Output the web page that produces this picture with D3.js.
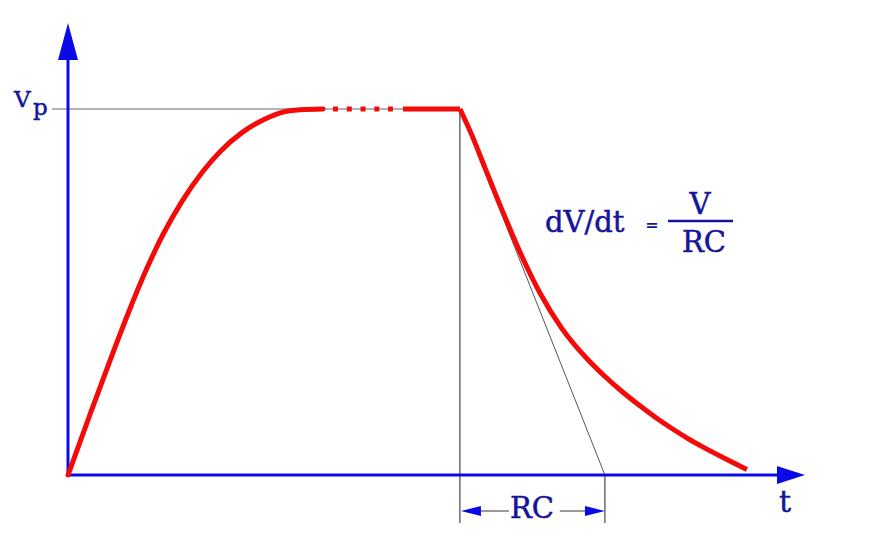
<!DOCTYPE html>
<html>
<head>
<meta charset="utf-8">
<script src="https://cdn.jsdelivr.net/npm/d3@7"></script>
<style>
  html, body { margin: 0; padding: 0; background: #fff; }
  svg { display: block; }
</style>
</head>
<body>
<svg id="chart" width="880" height="548"></svg>
<script>
// ---- Data (time in units of RC, voltage in units of Vp) ----
const riseT = [0, 0.1517, 0.2897, 0.4138, 0.5448, 0.6552, 0.7862, 0.9310, 1.0483, 1.2000, 1.3448, 1.4759, 1.6000, 1.7586];
const riseV = [0, 0.1653, 0.3128, 0.4407, 0.5653, 0.6571, 0.7478, 0.8298, 0.8833, 0.9355, 0.9699, 0.9910, 0.9978, 1.0];
const dottedT = [1.828, 2.241];          // dotted portion of the plateau
const plateauT = [2.310, 2.703];         // solid portion of the plateau
const decayT = [2.7034, 2.7862, 2.8759, 2.9655, 3.0621, 3.1517, 3.2552, 3.4069, 3.5862, 3.7034, 3.8207, 3.9310, 4.0483, 4.1655, 4.2759, 4.3931, 4.5103, 4.6828];
const decayV = [1.0, 0.9279, 0.8391, 0.7511, 0.6593, 0.5792, 0.4973, 0.4000, 0.3148, 0.2691, 0.2281, 0.1932, 0.1587, 0.1270, 0.0995, 0.0735, 0.0492, 0.0150];
const RC = 1.0;
const decayStart = 2.703;
const Vp = 1.0;
const axisMaxT = 5.083;
const axisMaxV = 1.235;
const labels = { vp: ["V", "p"], t: "t", rc: "RC", formulaLeft: "dV/dt", eq: "=", num: "V", den: "RC" };

// ---- Scales ----
const x = d3.scaleLinear().domain([0, axisMaxT]).range([68, 805]);
const y = d3.scaleLinear().domain([0, Vp]).range([475, 109]);

const svg = d3.select("#chart");
const blue = "#0a0ae6";
const navy = "#15159a";
const red = "#f50a0a";
const serif = "'DejaVu Serif', serif";

const line = d3.line().x(d => x(d[0])).y(d => y(d[1])).curve(d3.curveMonotoneX);

// thin reference lines
svg.append("line").attr("x1", 52).attr("x2", x(decayStart)).attr("y1", y(Vp)).attr("y2", y(Vp))
  .attr("stroke", "#666").attr("stroke-width", 1);
svg.append("line").attr("x1", x(decayStart)).attr("x2", x(decayStart)).attr("y1", y(Vp)).attr("y2", y(0) + 48)
  .attr("stroke", "#222").attr("stroke-width", 1);
svg.append("line").attr("x1", x(decayStart + RC)).attr("x2", x(decayStart + RC)).attr("y1", y(0)).attr("y2", y(0) + 48)
  .attr("stroke", "#222").attr("stroke-width", 1);
// tangent
svg.append("line").attr("x1", x(decayStart)).attr("y1", y(Vp)).attr("x2", x(decayStart + RC)).attr("y2", y(0))
  .attr("stroke", "#555").attr("stroke-width", 1);

// axes
svg.append("line").attr("x1", x(0)).attr("x2", x(axisMaxT) - 26).attr("y1", y(0)).attr("y2", y(0))
  .attr("stroke", blue).attr("stroke-width", 3);
svg.append("line").attr("x1", x(0)).attr("x2", x(0)).attr("y1", y(0) + 1.5).attr("y2", y(axisMaxV) + 35)
  .attr("stroke", blue).attr("stroke-width", 3);
// arrowheads
const xe = x(axisMaxT), ye = y(0);
svg.append("path").attr("d", `M${xe},${ye} L${xe - 28},${ye - 9} L${xe - 28},${ye + 9} Z`).attr("fill", blue);
const yt = y(axisMaxV), xo = x(0);
svg.append("path").attr("d", `M${xo},${yt} L${xo - 10},${yt + 37} L${xo + 10},${yt + 37} Z`).attr("fill", blue);

// red curves
const riseData = riseT.map((t, i) => [t, riseV[i]]);
const decayData = decayT.map((t, i) => [t, decayV[i]]);
svg.append("path").attr("d", line(riseData)).attr("fill", "none").attr("stroke", red).attr("stroke-width", 5).attr("stroke-linecap", "round");
svg.append("path").attr("d", line(dottedT.map(t => [t, Vp]))).attr("fill", "none").attr("stroke", red)
  .attr("stroke-width", 5).attr("stroke-dasharray", "5,8.75");
svg.append("path").attr("d", line(plateauT.map(t => [t, Vp]))).attr("fill", "none").attr("stroke", red).attr("stroke-width", 5);
svg.append("path").attr("d", line(decayData)).attr("fill", "none").attr("stroke", red).attr("stroke-width", 5).attr("stroke-linejoin", "round");

// RC dimension
const dy = y(0) + 36;
const xa = x(decayStart) + 1, xb = x(decayStart + RC);
svg.append("line").attr("x1", xa + 20).attr("x2", xa + 48).attr("y1", dy).attr("y2", dy).attr("stroke", "#555").attr("stroke-width", 1.2);
svg.append("line").attr("x1", xb - 45).attr("x2", xb - 20).attr("y1", dy).attr("y2", dy).attr("stroke", "#555").attr("stroke-width", 1.2);
svg.append("path").attr("d", `M${xa},${dy} L${xa + 20},${dy - 5} L${xa + 20},${dy + 5} Z`).attr("fill", blue);
svg.append("path").attr("d", `M${xb},${dy} L${xb - 20},${dy - 5} L${xb - 20},${dy + 5} Z`).attr("fill", blue);

const textStyle = sel => sel.attr("font-family", serif).attr("fill", navy).attr("stroke", navy).attr("stroke-width", 0.5);

svg.append("text").attr("x", (xa + xb) / 2 - 1).attr("y", dy + 7).attr("text-anchor", "middle")
  .call(textStyle).attr("font-size", 29).text(labels.rc);

// Vp label
const vpt = svg.append("text").call(textStyle).attr("font-size", 23);
vpt.append("tspan").attr("x", 14).attr("y", y(Vp) - 2).text(labels.vp[0]);
vpt.append("tspan").attr("x", 33).attr("y", y(Vp) + 6).text(labels.vp[1]);

// t label
svg.append("text").attr("x", 785).attr("y", 512).attr("text-anchor", "middle")
  .call(textStyle).attr("font-size", 30).text(labels.t);

// formula
svg.append("text").attr("x", 545).attr("y", 232).call(textStyle).attr("font-size", 29).text(labels.formulaLeft);
svg.append("text").attr("x", 652).attr("y", 229.5).attr("text-anchor", "middle").attr("font-family", "'DejaVu Sans', sans-serif")
  .attr("font-weight", "bold").attr("font-size", 16).attr("fill", navy).text(labels.eq);
svg.append("line").attr("x1", 668).attr("x2", 733).attr("y1", 221).attr("y2", 221).attr("stroke", navy).attr("stroke-width", 2.5);
svg.append("text").attr("x", 700).attr("y", 214).attr("text-anchor", "middle").call(textStyle).attr("font-size", 29).text(labels.num);
svg.append("text").attr("x", 704).attr("y", 252).attr("text-anchor", "middle").call(textStyle).attr("font-size", 29).text(labels.den);
</script>
</body>
</html>
